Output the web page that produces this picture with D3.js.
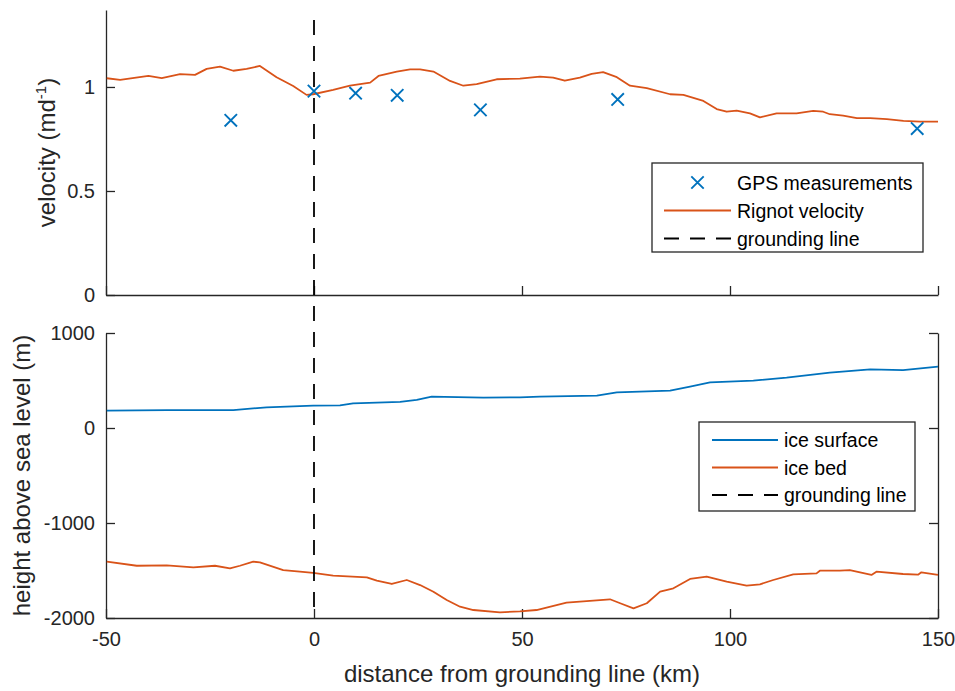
<!DOCTYPE html>
<html>
<head>
<meta charset="utf-8">
<script src="https://cdn.jsdelivr.net/npm/d3@7"></script>
<style>
  html, body { margin: 0; padding: 0; background: #fff; }
  svg { display: block; font-family: "Liberation Sans", Arial, Helvetica, sans-serif; }
</style>
</head>
<body>
<svg id="fig" width="955" height="691"></svg>
<script>
// Along-flow distance (km) and Rignot surface velocity (m/day)
const rignotKm = [-49.8,-46.6,-39.8,-36.6,-32.2,-28.6,-25.8,-22.6,-19.4,-16.2,-13.0,-9.0,-5.0,-1.8,-0.2,4.6,8.65,13.5,15.5,19.9,23.1,25.5,28.7,32.7,35.9,39.1,43.9,49.5,54.3,57.5,60.3,63.9,66.75,69.5,72.8,75.96,80.0,85.6,88.8,93.6,96.8,99.2,101.6,104.8,107.2,111.2,116.0,120.0,122.4,124.0,127.2,130.5,133.7,137.7,141.7,145.7,150];
const rignotVel = [1.042,1.034,1.053,1.043,1.062,1.058,1.087,1.098,1.078,1.087,1.101,1.047,1.005,0.962,0.965,0.986,1.006,1.021,1.053,1.074,1.085,1.085,1.074,1.029,1.006,1.014,1.037,1.040,1.050,1.045,1.030,1.045,1.063,1.071,1.047,1.006,0.994,0.965,0.962,0.933,0.894,0.881,0.886,0.873,0.854,0.873,0.873,0.885,0.881,0.869,0.862,0.850,0.850,0.845,0.837,0.833,0.833];

// GPS stations
const gpsKm  = [-20, 0, 10, 20, 40, 73, 145];
const gpsVel = [0.84, 0.98, 0.97, 0.96, 0.89, 0.94, 0.80];

// Ice surface elevation (m a.s.l.)
const surfKm = [-49.8,-35.4,-19.4,-11.4,-0.2,6.25,9.4,20.7,24.7,28.3,40.7,49.5,54.3,68,72.8,85.6,90.4,95.2,105.6,113.6,124,133.7,141.6,150];
const surfH  = [182,189,189,218,235,239,260,274,295,330,319,323,330,340,375,393,435,481,498,530,582,617,610,646];

// Ice bed elevation (m a.s.l.)
const bedKm = [-49.8,-42.6,-35.4,-29.0,-23.8,-20.2,-17.8,-14.6,-13.0,-7.4,-3.4,-0.2,4.6,12.7,15.1,18.7,22.3,25.5,28.7,31.9,35.1,38.3,44.7,49.5,53.5,60.7,71.15,73.6,76.8,80.0,83.2,86.4,90.4,94.4,99.2,104.0,107.2,110.4,115.2,120.8,121.6,126.4,128.8,134.0,135.2,141.6,145.2,146.0,150];
const bedH  = [-1407,-1450,-1446,-1467,-1450,-1477,-1450,-1407,-1414,-1495,-1512,-1526,-1554,-1572,-1607,-1642,-1600,-1653,-1723,-1811,-1881,-1916,-1940,-1930,-1916,-1839,-1803,-1845,-1898,-1845,-1723,-1687,-1589,-1565,-1618,-1660,-1645,-1600,-1540,-1530,-1502,-1502,-1495,-1547,-1512,-1537,-1544,-1519,-1547];

// Grounding line position and its vertical reach in the velocity panel
const groundingKm = 0;
const groundingTopVel = 1.322;

// Axis ranges and ticks
const xDomain = [-50, 150];
const xTicks = [-50, 0, 50, 100, 150];
const velDomain = [0, 1.37];
const velTicks = [0, 0.5, 1];
const hDomain = [-2000, 1000];
const hTicks = [-2000, -1000, 0, 1000];

const BLUE = "#0072BD", ORANGE = "#D95319", INK = "#262626";
const svg = d3.select("#fig");

const x = d3.scaleLinear().domain(xDomain).range([106, 938]);
const yVel = d3.scaleLinear().domain(velDomain).range([295, 10]);
const yH = d3.scaleLinear().domain(hDomain).range([618, 333]);

const fmt = d => String(d);
const TICK = 9;

function styleAxis(g) {
  g.selectAll("path.domain").attr("stroke", INK).attr("stroke-width", 1.3);
  g.selectAll(".tick line").attr("stroke", INK).attr("stroke-width", 1.3);
  g.selectAll(".tick text").attr("fill", INK).style("font-size", "20px")
    .style("font-family", '"Liberation Sans", Arial, sans-serif');
}

// ---------- velocity panel ----------
const velPanel = svg.append("g");
velPanel.append("g").attr("transform", `translate(0,${yVel(0)})`)
  .call(d3.axisBottom(x).tickValues(xTicks).tickSizeInner(-TICK).tickSizeOuter(0).tickFormat(""))
  .call(styleAxis);
velPanel.append("g").attr("transform", `translate(${x(xDomain[0])},0)`)
  .call(d3.axisLeft(yVel).tickValues(velTicks).tickSizeInner(-TICK).tickSizeOuter(0).tickPadding(11).tickFormat(fmt))
  .call(styleAxis);

const velLine = d3.line().x((d, i) => x(rignotKm[i])).y(d => yVel(d));
velPanel.append("path").datum(rignotVel).attr("d", velLine)
  .attr("fill", "none").attr("stroke", ORANGE).attr("stroke-width", 1.8).attr("stroke-linejoin", "round");

function cross(sel, cx, cy, r, color) {
  sel.append("path")
    .attr("d", `M${cx - r},${cy - r}L${cx + r},${cy + r}M${cx - r},${cy + r}L${cx + r},${cy - r}`)
    .attr("stroke", color).attr("stroke-width", 1.9).attr("fill", "none");
}
gpsVel.forEach((v, i) => cross(velPanel, x(gpsKm[i]), yVel(v), 6.2, BLUE));

// ---------- elevation panel ----------
const elevPanel = svg.append("g");
elevPanel.append("g").attr("transform", `translate(0,${yH(hDomain[0])})`)
  .call(d3.axisBottom(x).tickValues(xTicks).tickSizeInner(-TICK).tickSizeOuter(0).tickPadding(14).tickFormat(fmt))
  .call(styleAxis);
elevPanel.append("g").attr("transform", `translate(${x(xDomain[0])},0)`)
  .call(d3.axisLeft(yH).tickValues(hTicks).tickSizeInner(-TICK).tickSizeOuter(0).tickPadding(11).tickFormat(fmt))
  .call(styleAxis);
elevPanel.append("g").attr("transform", `translate(${x(xDomain[1])},0)`)
  .call(d3.axisRight(yH).tickValues(hTicks).tickSizeInner(-TICK).tickSizeOuter(0).tickFormat(""))
  .call(styleAxis);

const surfLine = d3.line().x((d, i) => x(surfKm[i])).y(d => yH(d));
elevPanel.append("path").datum(surfH).attr("d", surfLine)
  .attr("fill", "none").attr("stroke", BLUE).attr("stroke-width", 1.8).attr("stroke-linejoin", "round");
const bedLine = d3.line().x((d, i) => x(bedKm[i])).y(d => yH(d));
elevPanel.append("path").datum(bedH).attr("d", bedLine)
  .attr("fill", "none").attr("stroke", ORANGE).attr("stroke-width", 1.8).attr("stroke-linejoin", "round");

// grounding line spanning both panels
svg.append("line")
  .attr("x1", x(groundingKm)).attr("x2", x(groundingKm))
  .attr("y1", yVel(groundingTopVel)).attr("y2", yH(hDomain[0]))
  .attr("stroke", "#000").attr("stroke-width", 1.8).attr("stroke-dasharray", "15,11");

// ---------- axis titles ----------
const velTitle = svg.append("text")
  .attr("transform", `translate(55,${(yVel.range()[0] + yVel.range()[1]) / 2}) rotate(-90)`)
  .attr("text-anchor", "middle").attr("fill", INK).style("font-size", "24px");
velTitle.append("tspan").text("velocity (md");
velTitle.append("tspan").attr("dy", -9).style("font-size", "15px").text("-1");
velTitle.append("tspan").attr("dy", 9).text(")");

svg.append("text")
  .attr("transform", `translate(30,${(yH.range()[0] + yH.range()[1]) / 2}) rotate(-90)`)
  .attr("text-anchor", "middle").attr("fill", INK).style("font-size", "24px")
  .text("height above sea level (m)");

svg.append("text")
  .attr("x", (x.range()[0] + x.range()[1]) / 2).attr("y", 682)
  .attr("text-anchor", "middle").attr("fill", INK).style("font-size", "24px")
  .text("distance from grounding line (km)");

// ---------- legends ----------
function legend(box, items) {
  const g = svg.append("g");
  g.append("rect").attr("x", box.x).attr("y", box.y).attr("width", box.w).attr("height", box.h)
    .attr("fill", "#fff").attr("stroke", INK).attr("stroke-width", 1.3);
  items.forEach((it, i) => {
    const cy = box.y + box.first + i * box.step;
    const x0 = box.x + box.lineX0, x1 = box.x + box.lineX1;
    if (it.type === "cross") {
      cross(g, (x0 + x1) / 2, cy, 6.2, it.color);
    } else {
      g.append("line").attr("x1", x0).attr("x2", x1).attr("y1", cy).attr("y2", cy)
        .attr("stroke", it.color).attr("stroke-width", 1.8)
        .attr("stroke-dasharray", it.dash ? "15,11" : null);
    }
    g.append("text").attr("x", box.x + box.textX).attr("y", cy + 7)
      .attr("fill", "#000").style("font-size", "19.5px").text(it.label);
  });
}

legend({x: 652, y: 163, w: 271, h: 89, first: 19.5, step: 28, lineX0: 12, lineX1: 79, textX: 85}, [
  {type: "cross", color: BLUE, label: "GPS measurements"},
  {type: "line", color: ORANGE, label: "Rignot velocity"},
  {type: "line", color: "#000", dash: true, label: "grounding line"}
]);

legend({x: 699, y: 422, w: 216, h: 89, first: 18, step: 27.5, lineX0: 13, lineX1: 79, textX: 85}, [
  {type: "line", color: BLUE, label: "ice surface"},
  {type: "line", color: ORANGE, label: "ice bed"},
  {type: "line", color: "#000", dash: true, label: "grounding line"}
]);
</script>
</body>
</html>
